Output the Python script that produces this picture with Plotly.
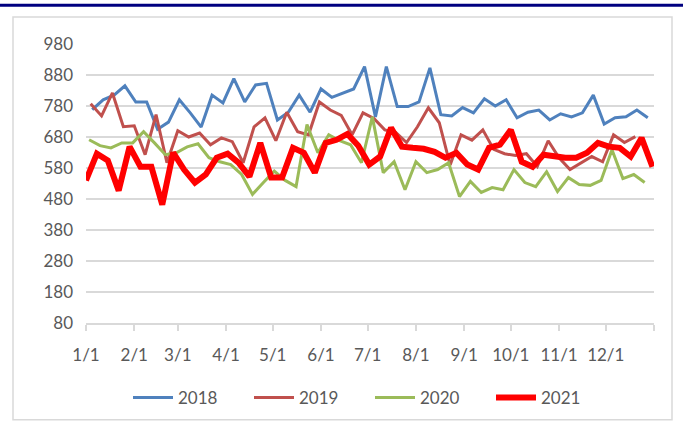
import pandas as pd
import plotly.graph_objects as go

# ---- data (weekly Friday readings) ----
start_2018 = "2018-01-05"
start_2019 = "2019-01-04"
start_2020 = "2020-01-03"
start_2021 = "2021-01-01"

v2018 = [768, 800, 815, 845, 793, 793, 705, 728, 800, 758, 712, 815, 790, 868, 793, 848,
         853, 735, 760, 815, 760, 835, 808, 822, 835, 907, 745, 907, 778, 778, 793, 903,
         752, 748, 775, 758, 803, 780, 800, 742, 760, 767, 735, 755, 745, 758, 815, 722,
         742, 745, 767, 742]
v2019 = [787, 748, 822, 713, 716, 623, 752, 597, 700, 680, 693, 655, 677, 665, 597, 713,
         742, 668, 760, 697, 687, 793, 767, 750, 687, 758, 740, 703, 695, 662, 713, 774,
         726, 590, 687, 670, 703, 640, 626, 620, 626, 585, 668, 613, 575, 597, 617, 600,
         687, 662, 681]
v2020 = [671, 652, 645, 661, 661, 697, 661, 623, 629, 648, 658, 613, 600, 591, 559, 495,
         533, 570, 540, 520, 720, 629, 687, 668, 655, 597, 745, 565, 600, 510, 600, 565,
         575, 597, 488, 537, 501, 517, 510, 575, 533, 520, 568, 504, 549, 527, 524, 540,
         639, 546, 559, 533]
v2021 = [540, 626, 604, 507, 649, 584, 584, 462, 630, 575, 533, 559, 613, 626, 597, 552,
         661, 549, 549, 645, 629, 565, 661, 671, 690, 652, 591, 617, 710, 649, 645, 642,
         632, 613, 629, 591, 575, 645, 655, 703, 600, 584, 623, 617, 613, 613, 629, 661,
         649, 645, 617, 677, 584]

tick_dates = ["2021-01-01", "2021-02-01", "2021-03-01", "2021-04-01", "2021-05-01",
              "2021-06-01", "2021-07-01", "2021-08-01", "2021-09-01", "2021-10-01",
              "2021-11-01", "2021-12-01", "2022-01-01"]
tick_text = ["1/1", "2/1", "3/1", "4/1", "5/1", "6/1", "7/1", "8/1", "9/1", "10/1",
             "11/1", "12/1", ""]
y_ticks = [80, 180, 280, 380, 480, 580, 680, 780, 880, 980]

series = [
    ("2018", start_2018, v2018, "#4F81BD", 3),
    ("2019", start_2019, v2019, "#C0504D", 3),
    ("2020", start_2020, v2020, "#9BBB59", 3),
    ("2021", start_2021, v2021, "#FF0000", 6),
]


def common_year_dates(start, n):
    d = pd.date_range(start, periods=n, freq="7D")
    jan1 = pd.Timestamp(year=d[0].year, month=1, day=1)
    return pd.Timestamp("2021-01-01") + (d - jan1)


fig = go.Figure()
for name, start, vals, color, w in series:
    fig.add_trace(go.Scatter(
        x=common_year_dates(start, len(vals)), y=vals, name=name, mode="lines",
        line=dict(color=color, width=w),
    ))

W, H = 683, 427
L, R, T, B = 86, 29, 44, 103
pw, ph = W - L - R, H - T - B


def px(x):
    return (x - L) / pw


def py(y):
    return (H - B - y) / ph


fig.update_layout(
    width=W, height=H, autosize=False,
    margin=dict(l=L, r=R, t=T, b=B),
    paper_bgcolor="white", plot_bgcolor="white",
    font=dict(family="Lato, 'Open Sans', sans-serif", size=16, color="#595959"),
    showlegend=True,
    legend=dict(orientation="h", x=px(128), xanchor="left", y=py(398), yanchor="middle",
                font=dict(size=17, color="#595959"), itemwidth=40, tracegroupgap=0,
                entrywidth=66, entrywidthmode="pixels"),
    shapes=[
        dict(type="rect", xref="paper", yref="paper", x0=px(13), x1=px(672), y0=py(421), y1=py(17),
             line=dict(color="#d9d9d9", width=1.5), layer="below"),
        dict(type="line", xref="paper", yref="paper", x0=px(0), x1=px(683), y0=py(5), y1=py(5),
             line=dict(color="#000080", width=3)),
    ],
)
fig.update_xaxes(
    type="date", range=["2021-01-01", "2022-01-01"],
    tickvals=tick_dates, ticktext=tick_text,
    ticks="outside", ticklen=6, tickcolor="#d9d9d9", tickwidth=1.5,
    showgrid=False, showline=True, linecolor="#d9d9d9", linewidth=1.5,
    tickfont=dict(size=17, color="#595959"), zeroline=False, ticklabelstandoff=10,
)
fig.update_yaxes(
    range=[80, 980], tickvals=y_ticks,
    showgrid=True, gridcolor="#d9d9d9", gridwidth=1.5,
    showline=False, zeroline=False, ticks="",
    tickfont=dict(size=17, color="#595959"), ticklabelstandoff=12,
)

fig.write_html("out.html", post_script="document.body.style.margin='0';",
               config={"displayModeBar": False})
